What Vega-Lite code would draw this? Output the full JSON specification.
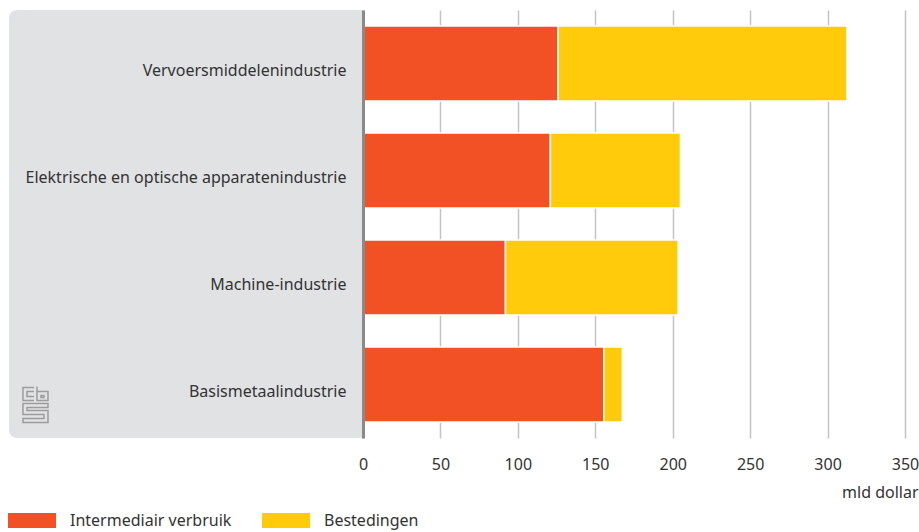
{
  "$schema": "https://vega.github.io/schema/vega-lite/v6.json",
  "width": 542,
  "height": 428,
  "autosize": {"type": "none"},
  "padding": {"left": 363, "top": 10, "right": 14, "bottom": 94},
  "background": "white",
  "config": {
    "view": {"stroke": null},
    "font": "Noto Sans"
  },
  "data": {
    "values": [
      {"branche": "Vervoersmiddelenindustrie", "soort": "Intermediair verbruik", "waarde": 126},
      {"branche": "Vervoersmiddelenindustrie", "soort": "Bestedingen", "waarde": 186.5},
      {"branche": "Elektrische en optische apparatenindustrie", "soort": "Intermediair verbruik", "waarde": 121},
      {"branche": "Elektrische en optische apparatenindustrie", "soort": "Bestedingen", "waarde": 84},
      {"branche": "Machine-industrie", "soort": "Intermediair verbruik", "waarde": 92},
      {"branche": "Machine-industrie", "soort": "Bestedingen", "waarde": 111.5},
      {"branche": "Basismetaalindustrie", "soort": "Intermediair verbruik", "waarde": 155.5},
      {"branche": "Basismetaalindustrie", "soort": "Bestedingen", "waarde": 12}
    ]
  },
  "layer": [
    {
      "data": {"values": [{}]},
      "mark": {
        "type": "rect",
        "fill": "#e1e2e4",
        "cornerRadiusTopLeft": 8,
        "cornerRadiusBottomLeft": 8
      },
      "encoding": {
        "x": {"datum": -228.6, "type": "quantitative", "scale": {"domain": [0, 350], "nice": false}},
        "x2": {"datum": 0}
      }
    },
    {
      "mark": {"type": "bar", "stroke": "white", "strokeWidth": 1.5},
      "encoding": {
        "y": {
          "field": "branche",
          "type": "nominal",
          "sort": null,
          "scale": {
            "domain": [
              "Vervoersmiddelenindustrie",
              "Elektrische en optische apparatenindustrie",
              "Machine-industrie",
              "Basismetaalindustrie"
            ],
            "paddingInner": 0.3,
            "paddingOuter": 0.15
          },
          "axis": {
            "title": null,
            "domainColor": "#8a8a8a",
            "domainWidth": 3,
            "ticks": false,
            "labelPadding": 17,
            "labelFontSize": 16,
            "labelColor": "#333333",
            "labelOffset": 7,
            "labelLimit": 400,
            "zindex": 1
          }
        },
        "x": {
          "field": "waarde",
          "type": "quantitative",
          "stack": "zero",
          "scale": {"domain": [0, 350], "nice": false},
          "axis": {
            "title": "mld dollar",
            "values": [0, 50, 100, 150, 200, 250, 300, 350],
            "grid": true,
            "gridColor": "#c4c4c4",
            "gridWidth": 1.5,
            "domain": false,
            "ticks": false,
            "labelPadding": 18,
            "labelFontSize": 16,
            "labelColor": "#333333",
            "labelFlush": false,
            "titleFontSize": 16,
            "titleFontWeight": "normal",
            "titleColor": "#333333",
            "titleAnchor": "end",
            "titleAlign": "right",
            "titleBaseline": "middle",
            "titleX": 555,
            "titleY": 54,
            "zindex": 0
          }
        },
        "color": {
          "field": "soort",
          "type": "nominal",
          "scale": {
            "domain": ["Intermediair verbruik", "Bestedingen"],
            "range": ["#f15124", "#ffcb0b"]
          },
          "legend": {
            "title": null,
            "orient": "none",
            "legendX": -355,
            "legendY": 486.5,
            "direction": "horizontal",
            "symbolType": "M-1,-0.3125H1V0.3125H-1Z",
            "symbolSize": 2304,
            "symbolStrokeWidth": 0,
            "symbolOpacity": 1,
            "labelFontSize": 16,
            "labelColor": "#333333",
            "labelOffset": 14,
            "columnPadding": 30,
            "labelLimit": 300
          }
        },
        "order": {"field": "soort", "sort": "descending"}
      }
    },
    {
      "data": {"values": [{}]},
      "mark": {
        "type": "point",
        "shape": "M-0.081,-0.919H-0.676V-0.216H-0.081M-0.081,-0.703H-0.459V-0.432H-0.081M0.081,-0.973V-0.216H0.676V-0.703H0.081M0.297,-0.486H0.459V-0.378H0.297ZM0.676,-0.054H-0.676V0.541H0.459V0.757H-0.676V0.973H0.676V0.324H-0.459V0.162H0.676Z",
        "size": 1369,
        "filled": false,
        "stroke": "#9c9c9c",
        "strokeWidth": 1.5,
        "opacity": 1,
        "yOffset": 20
      },
      "encoding": {
        "x": {"datum": -211.5, "type": "quantitative"},
        "y": {"datum": "Basismetaalindustrie", "type": "nominal"}
      }
    }
  ]
}
